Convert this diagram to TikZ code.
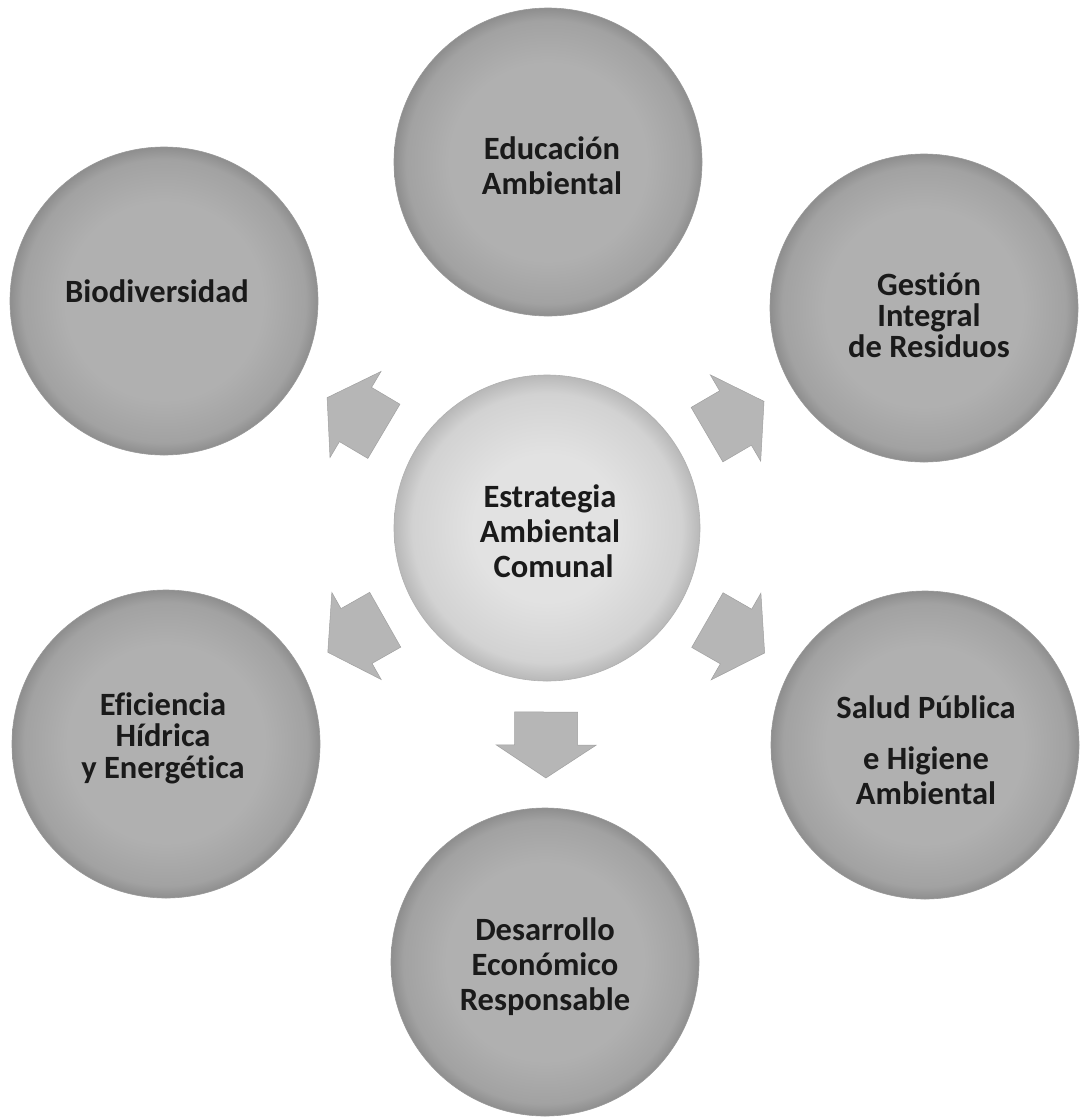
\documentclass[tikz,border=0pt]{standalone}
\usepackage{fontspec}
\setmainfont{Carlito}[Ligatures=NoCommon]
\usetikzlibrary{calc}
\definecolor{ballin}{HTML}{B0B0B0}
\definecolor{ballmid}{HTML}{A2A2A2}
\definecolor{ballout}{HTML}{8E8E8E}
\definecolor{hubin}{HTML}{E2E2E2}
\definecolor{hubmid}{HTML}{D2D2D2}
\definecolor{hubout}{HTML}{B8B8B8}
\definecolor{edgegray}{HTML}{999999}
\definecolor{hubedge}{HTML}{B0B0B0}
\definecolor{arrowgray}{HTML}{B6B6B6}
\definecolor{arrowedge}{HTML}{A0A0A0}
\definecolor{ink}{HTML}{1A1A1A}
\pgfdeclareradialshading{outerball}{\pgfpoint{0bp}{0bp}}{color(0bp)=(ballin); color(16bp)=(ballin); color(23bp)=(ballmid); color(25bp)=(ballout); color(50bp)=(ballout)}
\pgfdeclareradialshading{hubball}{\pgfpoint{0bp}{0bp}}{color(0bp)=(hubin); color(12bp)=(hubin); color(22bp)=(hubmid); color(25bp)=(hubout); color(50bp)=(hubout)}
\newcommand\radarrow[2]{%
  \coordinate (m#2) at ($(#1)!0.5!(#2)$);
  \coordinate (t#2) at ($(m#2)!33pt!(#1)$);
  \path[blk] ($(m#2)!33pt!(#2)$) -- ($(m#2)!50pt!90:(#2)$) -- ($(m#2)!31.5pt!90:(#2)$)
    -- ($(t#2)!31.5pt!90:(#2)$) -- ($(t#2)!31.5pt!-90:(#2)$) -- ($(m#2)!31.5pt!-90:(#2)$)
    -- ($(m#2)!50pt!-90:(#2)$) -- cycle;}
\begin{document}
\begin{tikzpicture}[x=1pt,y=-1pt,
  ball/.style={circle, minimum size=308pt, inner sep=0pt, shade, shading=outerball, draw=edgegray, line width=0.6pt},
  hub/.style={circle, minimum size=306pt, inner sep=0pt, shade, shading=hubball, draw=hubedge, line width=0.6pt},
  lbl/.style={font=\fontsize{32.5}{35}\selectfont\bfseries, text=ink, align=center, inner sep=0pt},
  blk/.style={fill=arrowgray, draw=arrowedge, line width=0.5pt, line join=miter}]
\useasboundingbox[fill=white] (0,0) rectangle (1085,1117);

% circles
\node[hub]  (hub) at (547,528) {};
\node[ball] (edu) at (548,162) {};
\node[ball] (bio) at (164,301) {};
\node[ball] (ges) at (924,308) {};
\node[ball] (efi) at (166,744) {};
\node[ball] (sal) at (925,745) {};
\node[ball] (des) at (545,962) {};

% block arrows from the hub
\radarrow{hub}{bio}
\radarrow{hub}{ges}
\radarrow{hub}{efi}
\radarrow{hub}{sal}
\radarrow{hub}{des}

% labels
\node[lbl] (hubt) at (550,531) {Estrategia\\Ambiental\\\ Comunal};
\node[lbl] (edut) at (552,166) {Educación\\Ambiental};
\node[lbl] (biot) at (157,291) {Biodiversidad};
\node[lbl, font=\fontsize{32.5}{31}\selectfont\bfseries] (gest) at (929,315) {Gestión\\Integral\\de Residuos};
\node[lbl, font=\fontsize{32.5}{31.5}\selectfont\bfseries] (efit) at (163,738) {Eficiencia\\Hídrica\\y Energética};
\node[lbl] (salt) at (926,750) {Salud Pública\\[16pt]e Higiene\\Ambiental};
\node[lbl] (dest) at (545,967) {Desarrollo\\Económico\\Responsable};
\end{tikzpicture}
\end{document}
